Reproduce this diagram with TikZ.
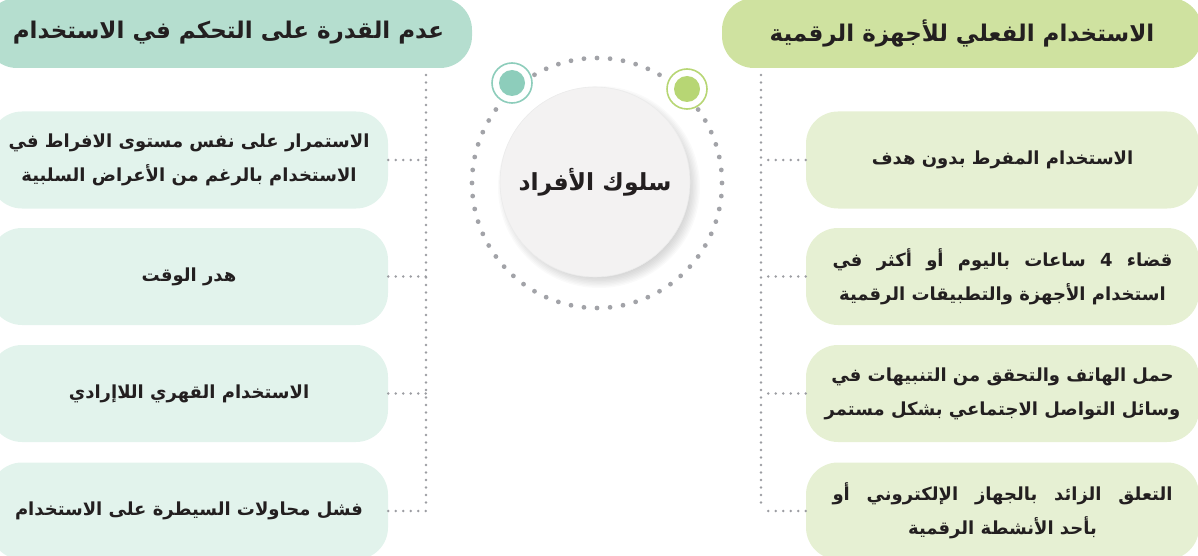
\documentclass[tikz,border=0pt]{standalone}
\usepackage{fontspec}
\newfontfamily\arabicfont[Script=Arabic]{DejaVu Sans}
\TeXXeTstate=1
\definecolor{lheadc}{HTML}{B5DECF}
\definecolor{rheadc}{HTML}{CFE2A0}
\definecolor{lboxc}{HTML}{E2F3EC}
\definecolor{rboxc}{HTML}{E6F0D3}
\definecolor{centc}{HTML}{F3F2F2}
\definecolor{tealc}{HTML}{8DCDBB}
\definecolor{greenc}{HTML}{B7D674}
\definecolor{dotc}{HTML}{A2A3A8}
\definecolor{linedotc}{HTML}{9C9DA2}
\definecolor{txtc}{HTML}{231F20}
\newlength\jw \setlength\jw{340pt}
\newcommand\jline[1]{\hbox to \jw{\beginR #1\endR}}
\newcommand\rl[1]{\beginR #1\endR}
\tikzset{
  txt/.style={text=txtc, font=\arabicfont\bfseries\fontsize{18}{34}\selectfont, align=center},
  headbox/.style={txt, rounded corners=32, minimum height=70, inner sep=0, font=\arabicfont\bfseries\fontsize{23}{30}\selectfont},
  lhead/.style={headbox, fill=lheadc, minimum width=487},
  rhead/.style={headbox, fill=rheadc, minimum width=480},
  itembox/.style={txt, rounded corners=32, minimum height=97, inner sep=0},
  lbox/.style={itembox, fill=lboxc, minimum width=398},
  rbox/.style={itembox, fill=rboxc, minimum width=393},
  dotline/.style={draw=linedotc, line width=2.7, line cap=round, dash pattern=on 0pt off 7.5pt},
  ringdot/.style={fill=dotc},
}
\begin{document}
\begin{tikzpicture}[x=1pt,y=-1pt]
\useasboundingbox (0,0) rectangle (1198,556);
\clip (0,0) rectangle (1198,556);
% headers
\node[lhead] (lh) at (228.5,33) {\rl{عدم القدرة على التحكم في الاستخدام}};
\node[rhead] (rh) at (962,33) {\rl{الاستخدام الفعلي للأجهزة الرقمية}};
% left boxes
\node[lbox] (l1) at (189,160) {\rl{الاستمرار على نفس مستوى الافراط في}\\\rl{الاستخدام بالرغم من الأعراض السلبية}};
\node[lbox] (l2) at (189,276.5) {\rl{هدر الوقت}};
\node[lbox] (l3) at (189,393.5) {\rl{الاستخدام القهري اللاإرادي}};
\node[lbox] (l4) at (189,511) {\rl{فشل محاولات السيطرة على الاستخدام}};
% right boxes
\node[rbox] (r1) at (1002.5,160) {\rl{الاستخدام المفرط بدون هدف}};
\node[rbox] (r2) at (1002.5,276.5) {\jline{قضاء 4 ساعات باليوم أو أكثر في}\\\rl{استخدام الأجهزة والتطبيقات الرقمية}};
\node[rbox] (r3) at (1002.5,393.5) {\rl{حمل الهاتف والتحقق من التنبيهات في}\\\rl{وسائل التواصل الاجتماعي بشكل مستمر}};
\node[rbox] (r4) at (1002.5,511) {\jline{التعلق الزائد بالجهاز الإلكتروني أو}\\\rl{بأحد الأنشطة الرقمية}};
% connector spines
\coordinate (ltop) at (426,75);
\coordinate (lbot) at (426,509);
\coordinate (rtop) at (761,75);
\coordinate (rbot) at (761,509);
\draw[dotline] (ltop) -- (lbot);
\draw[dotline] (rtop) -- (rbot);
\foreach \n in {l1,l2,l3,l4} \draw[dotline] (\n.east) -- (\n.east -| ltop);
\foreach \n in {r1,r2,r3,r4} \draw[dotline] (\n.west) -- (\n.west -| rtop);
% dotted ring
\coordinate (ring) at (597,183);
\foreach \a in {0,6,...,354} \fill[ringdot] (ring) ++(\a:125) circle (2.4);
% small circles
\node[circle, draw=tealc, line width=1.6, fill=white, minimum size=40, inner sep=0] (tc) at (512,83) {};
\fill[tealc] (tc.center) circle (13);
\node[circle, draw=greenc, line width=1.6, fill=white, minimum size=40, inner sep=0] (gc) at (687,89) {};
\fill[greenc] (gc.center) circle (13);
% soft shadow of centre
\foreach \i in {1,...,10} \fill[black, opacity=0.018] (599,187) circle ({87+1.4*\i});
% centre
\node[circle, fill=centc, draw=black!8, line width=0.6, minimum size=190, inner sep=0,
  text=txtc, font=\arabicfont\bfseries\fontsize{23.5}{30}\selectfont] (c) at (595,182) {\rl{سلوك الأفراد}};
\end{tikzpicture}
\end{document}
